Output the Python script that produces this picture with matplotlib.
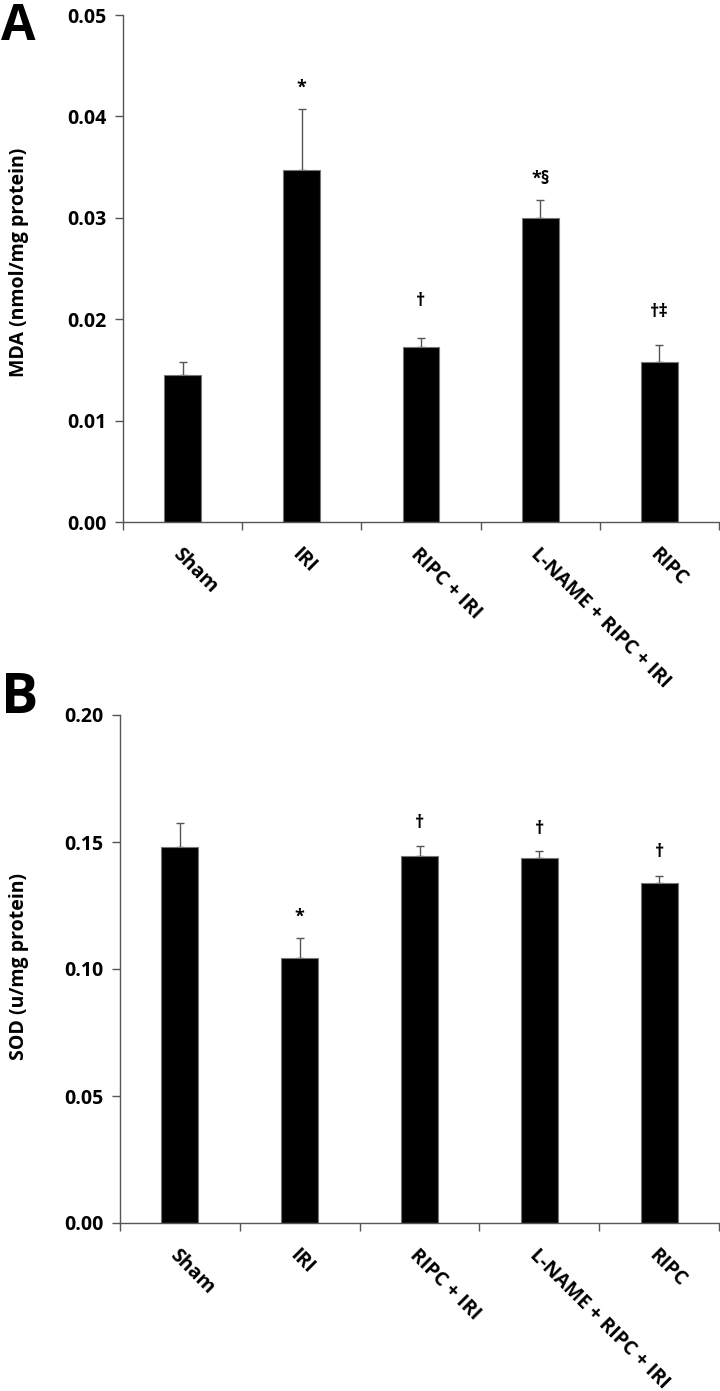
import matplotlib
matplotlib.use("Agg")
import matplotlib.pyplot as plt
from matplotlib.transforms import ScaledTranslation
import numpy as np

categories = ["Sham", "IRI", "RIPC + IRI", "L-NAME + RIPC + IRI", "RIPC"]

mda_mean = [0.0145, 0.0347, 0.0173, 0.0300, 0.0158]
mda_err = [0.0013, 0.0060, 0.0008, 0.0018, 0.0017]
mda_sig = ["", "*", "\u2020", "*\u00a7", "\u2020\u2021"]
mda_sig_y = [0.0, 0.0428, 0.0218, 0.0338, 0.0207]

sod_mean = [0.1482, 0.1045, 0.1443, 0.1437, 0.1338]
sod_err = [0.0093, 0.0078, 0.0040, 0.0028, 0.0027]
sod_sig = ["", "*", "\u2020", "\u2020", "\u2020"]
sod_sig_y = [0.0, 0.1205, 0.1575, 0.1552, 0.1462]

mda_ticks = [0.00, 0.01, 0.02, 0.03, 0.04, 0.05]
sod_ticks = [0.00, 0.05, 0.10, 0.15, 0.20]

FONT = ["Open Sans", "DejaVu Sans"]
plt.rcParams["font.family"] = FONT

W, H = 720, 1391
fig = plt.figure(figsize=(W / 100, H / 100), dpi=100)

def px_axes(left, top, right, bottom):
    return fig.add_axes([left / W, 1 - bottom / H, (right - left) / W, (bottom - top) / H])

def draw(ax, means, errs, sigs, sig_y, ticks, fmt):
    x = np.arange(len(categories))
    ax.bar(x, means, width=0.31, color="black", edgecolor="#777777", linewidth=0.8, zorder=2)
    ax.errorbar(x, means, yerr=[np.zeros(len(errs)), errs], fmt="none",
                ecolor="#555555", elinewidth=1.0, capsize=3, capthick=1.0, zorder=1)
    for xi, s, yy in zip(x, sigs, sig_y):
        if s:
            ax.text(xi, yy, s, ha="center", va="center", fontsize=13,
                    fontweight="bold", family=FONT)
    ax.set_xlim(-0.5, len(categories) - 0.5)
    ax.set_ylim(ticks[0], ticks[-1])
    ax.set_yticks(ticks)
    ax.set_yticklabels([fmt.format(t) for t in ticks], fontsize=14, fontweight="bold")
    ax.set_xticks(np.arange(len(categories) + 1) - 0.5)
    ax.set_xticklabels([])
    ax.set_xticks(x, minor=True)
    ax.set_xticklabels(categories, minor=True, rotation=-45, ha="left", va="top",
                       rotation_mode="anchor", fontsize=14, fontweight="bold")
    shift = ScaledTranslation(0.03, 0, fig.dpi_scale_trans)
    for lab in ax.get_xticklabels(minor=True):
        lab.set_transform(lab.get_transform() + shift)
    ax.tick_params(axis="x", which="minor", length=0, pad=16)
    ax.tick_params(axis="x", which="major", length=6, width=1, color="#555555", direction="out")
    ax.tick_params(axis="y", length=6, width=1, color="#555555", direction="out", pad=6)
    for s in ["top", "right"]:
        ax.spines[s].set_visible(False)
    for s in ["left", "bottom"]:
        ax.spines[s].set_color("#555555")
        ax.spines[s].set_linewidth(1.0)

axA = px_axes(123, 15, 719, 522)
draw(axA, mda_mean, mda_err, mda_sig, mda_sig_y, mda_ticks, "{:.2f}")
axB = px_axes(120, 715, 719, 1223)
draw(axB, sod_mean, sod_err, sod_sig, sod_sig_y, sod_ticks, "{:.2f}")

fig.text(19 / W, 1 - 262 / H, "MDA (nmol/mg protein)", rotation=90, ha="center", va="center",
         fontsize=14, fontweight="bold")
fig.text(19 / W, 1 - 966 / H, "SOD (u/mg protein)", rotation=90, ha="center", va="center",
         fontsize=14, fontweight="bold")
fig.text(1 / W, 1 - 40 / H, "A", ha="left", va="baseline", fontsize=36, fontweight="bold")
fig.text(1 / W, 1 - 713 / H, "B", ha="left", va="baseline", fontsize=40, fontweight="bold")

fig.savefig("out.png", dpi=100)
